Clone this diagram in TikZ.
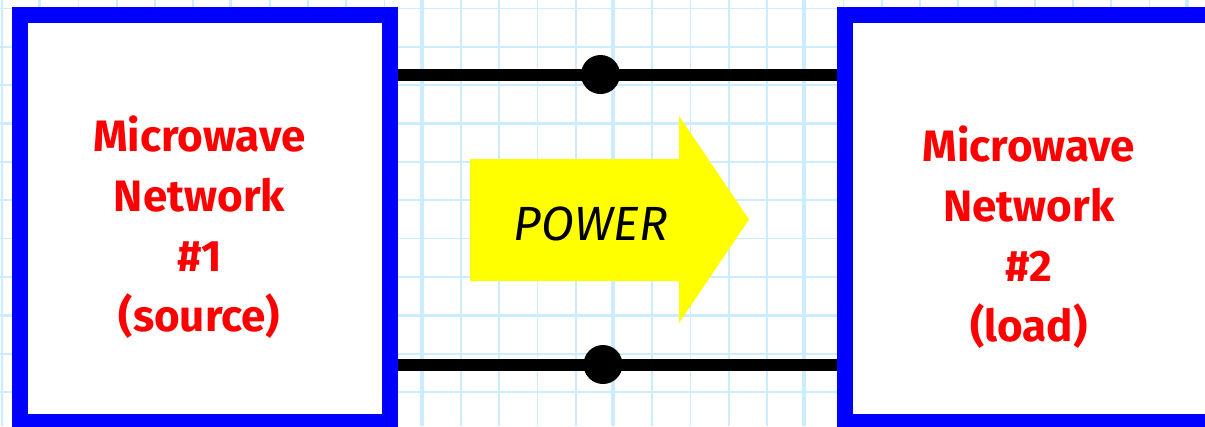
\documentclass[tikz,border=0pt]{standalone}
\usepackage{fontspec}
\setmainfont{Fira Sans}
\definecolor{gridc}{RGB}{204,236,255}
\definecolor{netblue}{RGB}{0,0,255}
\definecolor{pureyellow}{RGB}{255,255,0}
\definecolor{purered}{RGB}{255,0,0}
\tikzset{
  x=1pt,y=-1pt,
  gridthin/.style={draw=gridc,line width=1.7pt},
  gridthick/.style={draw=gridc,line width=3.4pt},
  netbox/.style={draw=netblue,line width=16pt,fill=white,rectangle,inner sep=0pt,minimum width=370pt,minimum height=407pt,anchor=north west},
  netlabel/.style={text=purered,font=\fontsize{44}{60}\selectfont\bfseries,align=center},
  wire/.style={draw=black,line width=12pt},
  terminal/.style={circle,fill=black,inner sep=0pt,minimum size=39pt},
  powerarrow/.style={fill=pureyellow,draw=none},
  powerlabel/.style={font=\fontsize{48}{52}\selectfont\itshape,text=black}
}
\begin{document}
\begin{tikzpicture}
\useasboundingbox (0,0) rectangle (1205,426);
\fill[white] (0,0) rectangle (1205,426);
\clip (0,0) rectangle (1205,426);
\foreach \i in {0,...,10}{
  \pgfmathsetmacro{\yy}{8.5+38.35*\i}
  \draw[gridthin] (0,\yy) -- (1205,\yy);
}
\foreach \yy in {123.7,315.5}{\draw[gridthick] (0,\yy) -- (1205,\yy);}
\foreach \i in {0,...,31}{
  \pgfmathsetmacro{\xx}{1.9+38.25*\i}
  \draw[gridthin] (\xx,0) -- (\xx,426);
}
\foreach \xx in {39.5,230.7,421.9,613,804,995.5,1186.8}{\draw[gridthick] (\xx,0) -- (\xx,426);}
\node[netbox] (n1) at (12,7) {};
\node[netbox] (n2) at (837,7) {};
\node[netlabel] (t1) at (199.5,227) {Microwave\\Network\\\#1\\(source)};
\node[netlabel] (t2) at (1029,237) {Microwave\\Network\\\#2\\(load)};
\coordinate (a1) at (n1.east |- 0,74.5);
\coordinate (a2) at (n2.west |- 0,74.5);
\coordinate (b1) at (n1.east |- 0,364.5);
\coordinate (b2) at (n2.west |- 0,364.5);
\draw[wire] (a1) -- (a2);
\draw[wire] (b1) -- (b2);
\node[terminal] (p1) at (600.5,74.5) {};
\node[terminal] (p2) at (603,364.5) {};
\fill[powerarrow] (470,159) -- (679,159) -- (679,116) -- (749,219.5) -- (679,323) -- (679,281) -- (470,281) -- cycle;
\node[powerlabel] (pw) at (591,224) {POWER};
\end{tikzpicture}
\end{document}
